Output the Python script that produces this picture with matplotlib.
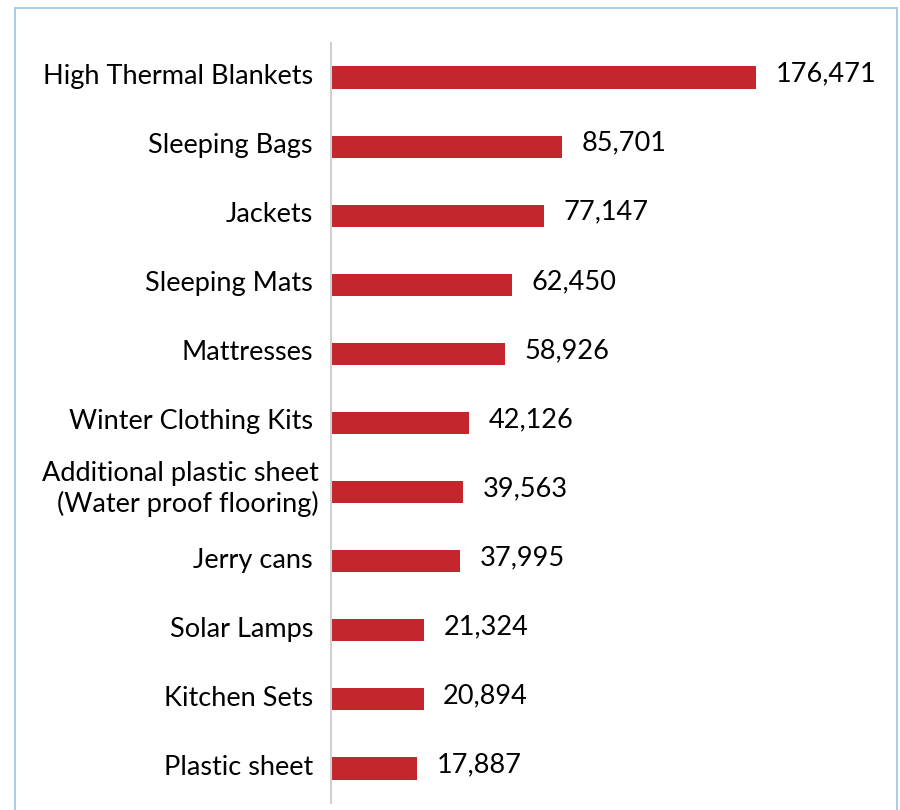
import matplotlib
matplotlib.use("Agg")
import matplotlib.pyplot as plt
from matplotlib.patches import Rectangle
from matplotlib.transforms import ScaledTranslation
import numpy as np

plt.rcParams['font.family'] = ['Lato', 'DejaVu Sans']

categories = ['High Thermal Blankets', 'Sleeping Bags', 'Jackets', 'Sleeping Mats',
              'Mattresses', 'Winter Clothing Kits',
              'Additional plastic sheet\n(Water proof flooring)', 'Jerry cans',
              'Solar Lamps', 'Kitchen Sets', 'Plastic sheet']
values = [176471, 85701, 77147, 62450, 58926, 42126, 39563, 37995, 21324, 20894, 17887]

# axis in the original starts below zero
x0 = -22360
fs = 19.5

fig = plt.figure(figsize=(9, 8.1), dpi=100)
ax = fig.add_axes([331/900, 1 - 803/810, (860 - 331)/900, (803 - 43)/810])

y = np.arange(len(categories))
vals = np.array(values)
ax.barh(y, vals - x0, left=x0, height=0.32, color='#C4262E')

for yi, v in zip(y, vals):
    ax.annotate(f'{v:,}', (v, yi), xytext=(14, 2.5), textcoords='offset points',
                va='center', ha='left', fontsize=fs, color='black')

ax.set_xlim(x0, 225000)
ax.set_ylim(len(categories) - 0.5, -0.5)
ax.set_yticks(y)
ax.set_yticklabels(categories, fontsize=fs, ha='right', multialignment='right')
ax.tick_params(axis='y', length=0, pad=13)
for lab in ax.get_yticklabels():
    if '\n' in lab.get_text():
        lab.set_linespacing(1.25)
        shift = ScaledTranslation(6/100, 8/100, fig.dpi_scale_trans)
    else:
        shift = ScaledTranslation(0, 3.5/100, fig.dpi_scale_trans)
    lab.set_transform(lab.get_transform() + shift)
ax.set_xticks([])
for s in ['top', 'right', 'bottom']:
    ax.spines[s].set_visible(False)
ax.spines['left'].set_color('#d0d0d0')
ax.spines['left'].set_linewidth(1.5)

fig.patches.append(Rectangle((15/900, -0.1), (897 - 15)/900, 1.1 - 8/810,
                             transform=fig.transFigure, fill=False,
                             edgecolor='#9DC3E6', linewidth=1.2))

fig.savefig('out.png', dpi=100)
